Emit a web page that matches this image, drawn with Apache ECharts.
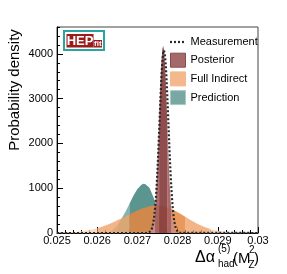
<!DOCTYPE html>
<html><head><meta charset="utf-8">
<script src="https://cdn.jsdelivr.net/npm/echarts@6/dist/echarts.min.js"></script>
<style>html,body{margin:0;padding:0;background:#fff}#c{width:287px;height:274px}</style>
</head><body><div id="c"></div>
<script>
// ---- tick labels / names ----
const xTickLabels = ['0.025','0.026','0.027','0.028','0.029','0.03'];
const yTickValues = [0, 1000, 2000, 3000, 4000];
const yTickLabels = ['0','1000','2000','3000','4000'];
const legendNames = ['Measurement','Posterior','Full Indirect','Prediction'];

// ---- Measurement (dotted line) ----
const measurementX = [0.025,0.02724,0.02726,0.02728,0.02730,0.02732,0.02734,0.02736,0.02738,0.02740,0.02742,0.02744,0.02746,0.02748,0.02750,0.02752,0.02754,0.02756,0.02758,0.02760,0.02762,0.02764,0.02766,0.02768,0.02770,0.02772,0.02774,0.02776,0.02778,0.02780,0.02782,0.02784,0.02786,0.02788,0.02790,0.02792,0.02794,0.02796,0.02798,0.02800,0.02802,0.02804,0.02806,0.02808,0.030];
const measurementY = [0,0,5,10,19,35,60,99,160,250,378,552,782,1071,1418,1815,2250,2699,3131,3517,3819,4013,4080,4013,3819,3517,3131,2699,2250,1815,1418,1071,782,552,378,250,160,99,60,35,19,10,5,0,0];

// ---- Posterior ----
const posteriorX = [0.02728,0.02730,0.02732,0.02734,0.02736,0.02738,0.02740,0.02742,0.02744,0.02746,0.02748,0.02750,0.02752,0.02754,0.02756,0.02758,0.02760,0.02762,0.02764,0.02766,0.02768,0.02770,0.02772,0.02774,0.02776,0.02778,0.02780,0.02782,0.02784,0.02786,0.02788,0.02790,0.02792,0.02794,0.02796,0.02798,0.02800];
const posteriorY = [6,13,25,46,83,142,235,372,566,827,1162,1569,2035,2535,3035,3491,3859,4097,4180,4097,3859,3491,3035,2535,2035,1569,1162,827,566,372,235,142,83,46,25,13,6];
const posteriorBands = [0.02744, 0.02754, 0.02774, 0.02784];

// ---- Full Indirect ----
const indirectX = [0.0250,0.0251,0.0252,0.0253,0.0254,0.0255,0.0256,0.0257,0.0258,0.0259,0.0260,0.0261,0.0262,0.0263,0.0264,0.0265,0.0266,0.0267,0.0268,0.0269,0.0270,0.0271,0.0272,0.0273,0.0274,0.0275,0.0276,0.0277,0.0278,0.0279,0.0280,0.0281,0.0282,0.0283,0.0284,0.0285,0.0286,0.0287,0.0288,0.0289,0.0290,0.0291,0.0292,0.0293,0.0294,0.0295,0.0296,0.0297];
const indirectY = [4,6,9,14,20,28,38,50,65,85,108,135,165,200,240,282,325,370,411,458,501,539,571,595,610,615,608,588,556,515,466,412,356,302,250,202,160,124,94,69,50,36,25,17,11,7,4.5,2.8];
const indirectBands = [0.0260, 0.0268, 0.0282, 0.0288];

// ---- Prediction ----
const predictionX = [0.0261,0.0262,0.0263,0.0264,0.0265,0.0266,0.0267,0.0268,0.0269,0.0270,0.0271,0.02715,0.0272,0.0273,0.0274,0.0275,0.0276,0.0277,0.0278,0.0279];
const predictionY = [0,8,25,75,170,310,470,650,830,985,1080,1100,1090,1010,800,520,260,90,20,0];
const predictionBands = [0.0265, 0.0268, 0.0276, 0.0277];

const FONT = '"Liberation Sans", Arial, Helvetica, sans-serif';

function pairs(xs, ys) { return xs.map((x, i) => [x, ys[i]]); }
function bandSeries(name, xs, ys, edges, colors) {
  const lims = [-Infinity, edges[0], edges[1], edges[2], edges[3], Infinity];
  const cols = [colors[0], colors[1], colors[2], colors[1], colors[0]];
  const eps = 1e-9, out = [];
  for (let k = 0; k < 5; k++) {
    const data = pairs(xs, ys).filter(p => p[0] >= lims[k] - eps && p[0] <= lims[k + 1] + eps);
    if (data.length < 2) continue;
    out.push({
      type: 'line', name: name, data: data, symbol: 'none', silent: true,
      lineStyle: { width: 0, opacity: 0 },
      itemStyle: { color: cols[k] },
      areaStyle: { color: cols[k], opacity: 1 }
    });
  }
  return out;
}

const series = []
  .concat(bandSeries('Prediction', predictionX, predictionY, predictionBands,
    ['#9cc2be', '#86b3af', '#5b9590']))
  .concat(bandSeries('Full Indirect', indirectX, indirectY, indirectBands,
    ['rgba(247,208,177,0.8)', 'rgba(237,162,106,0.8)', 'rgba(229,134,66,0.85)']))
  .concat(bandSeries('Posterior', posteriorX, posteriorY, posteriorBands,
    ['rgba(196,140,140,0.92)', 'rgba(165,95,95,0.92)', 'rgba(135,62,62,0.92)']))
  .concat([{
    type: 'line', name: 'Measurement', data: pairs(measurementX, measurementY),
    symbol: 'none', showSymbol: false, silent: true,
    lineStyle: { color: '#2b2b2b', width: 2.2, type: [2, 2] },
    itemStyle: { color: '#2b2b2b' }
  }]);

const LEG_TOP = 35;
const chart = echarts.init(document.getElementById('c'));
chart.setOption({
  animation: false,
  backgroundColor: '#fff',
  grid: { left: 57, top: 27, width: 201, height: 206, show: true, borderColor: '#444', borderWidth: 1,
          backgroundColor: 'transparent', outerBoundsMode: 'none', containLabel: false },
  xAxis: {
    type: 'value', min: 0.025, max: 0.03, interval: 0.001,
    axisLine: { show: true, onZero: false, lineStyle: { color: '#000', width: 1 } },
    axisTick: { show: true, inside: true, length: 6, lineStyle: { color: '#000' } },
    minorTick: { show: true, splitNumber: 5, length: 3, lineStyle: { color: '#000' } },
    splitLine: { show: false }, minorSplitLine: { show: false },
    axisLabel: { color: '#000', fontSize: 11, fontFamily: FONT, margin: 2,
      formatter: (v, i) => xTickLabels[i] }
  },
  yAxis: [{
    type: 'value', min: 0, max: 4600, interval: 1000,
    axisLine: { show: true, onZero: false, lineStyle: { color: '#000', width: 1 } },
    axisTick: { show: true, inside: true, length: 6, lineStyle: { color: '#000' } },
    splitLine: { show: false },
    axisLabel: { color: '#000', fontSize: 11, fontFamily: FONT, margin: 4, showMaxLabel: false,
      formatter: (v) => { const i = yTickValues.indexOf(v); return i >= 0 ? yTickLabels[i] : ''; } }
  }, {
    type: 'value', min: 0, max: 4600, interval: 200, position: 'left',
    axisLine: { show: false }, splitLine: { show: false },
    axisTick: { show: true, inside: true, length: 3, lineStyle: { color: '#000' } },
    axisLabel: { show: false }
  }],
  legend: {
    orient: 'vertical', left: 170, top: LEG_TOP, itemWidth: 15, itemHeight: 14, itemGap: 3.7,
    selectedMode: false, padding: 0,
    textStyle: { fontSize: 11, fontFamily: FONT, color: '#000' },
    data: [
      { name: legendNames[0], icon: 'rect', itemStyle: { color: 'rgba(0,0,0,0)', borderWidth: 0 } },
      { name: legendNames[1], icon: 'rect', itemStyle: { color: '#a46a6a', borderColor: '#8b4b4b', borderWidth: 1 } },
      { name: legendNames[2], icon: 'rect', itemStyle: { color: '#f3b98d', borderColor: '#f3b98d', borderWidth: 1 } },
      { name: legendNames[3], icon: 'rect', itemStyle: { color: '#7ba7a3', borderColor: '#a9c9c6', borderWidth: 1 } }
    ]
  },
  graphic: [
    // dotted sample for the Measurement legend entry
    { type: 'line', shape: { x1: 170, y1: LEG_TOP + 7, x2: 185, y2: LEG_TOP + 7 },
      style: { stroke: '#2b2b2b', lineWidth: 2.2, lineDash: [2, 2] }, silent: true },
    { type: 'text', x: 14.5, y: 90, rotation: Math.PI / 2,
      style: { text: 'Probability density', fontSize: 15, fontFamily: FONT, fill: '#000', align: 'center', verticalAlign: 'middle' } },
    { type: 'text', x: 195, y: 258, style: { text: 'Δα', fontSize: 16, fontFamily: FONT, fill: '#000', align: 'left', verticalAlign: 'middle' } },
    { type: 'text', x: 218, y: 249, style: { text: '(5)', fontSize: 10, fontFamily: FONT, fill: '#000', align: 'left', verticalAlign: 'middle' } },
    { type: 'text', x: 218, y: 264, style: { text: 'had', fontSize: 10, fontFamily: FONT, fill: '#000', align: 'left', verticalAlign: 'middle' } },
    { type: 'text', x: 233, y: 259, style: { text: '(M', fontSize: 15, fontFamily: FONT, fill: '#000', align: 'left', verticalAlign: 'middle' } },
    { type: 'text', x: 249, y: 250, style: { text: '2', fontSize: 10, fontFamily: FONT, fill: '#000', align: 'left', verticalAlign: 'middle' } },
    { type: 'text', x: 248.5, y: 265, style: { text: 'Z', fontSize: 10, fontFamily: FONT, fill: '#000', align: 'left', verticalAlign: 'middle' } },
    { type: 'text', x: 254, y: 259, style: { text: ')', fontSize: 15, fontFamily: FONT, fill: '#000', align: 'left', verticalAlign: 'middle' } },
    // HEPfit logo
    { type: 'rect', shape: { x: 64, y: 31, width: 40, height: 19 }, style: { fill: '#fff', stroke: '#2aa3a3', lineWidth: 2 } },
    { type: 'rect', shape: { x: 66.5, y: 34, width: 27, height: 13.5 }, style: { fill: '#9b1a1a' } },
    { type: 'text', x: 80, y: 41, style: { text: 'HEP', fontSize: 13, fontWeight: 'bold', fontFamily: FONT, fill: '#fff', align: 'center', verticalAlign: 'middle' } },
    { type: 'rect', shape: { x: 93.5, y: 40, width: 8.5, height: 7.5 }, style: { fill: '#9b1a1a' } },
    { type: 'text', x: 97.8, y: 44, style: { text: 'fit', fontSize: 8, fontWeight: 'bold', fontFamily: FONT, fill: '#fff', align: 'center', verticalAlign: 'middle' } }
  ],
  series: series
});
</script></body></html>
